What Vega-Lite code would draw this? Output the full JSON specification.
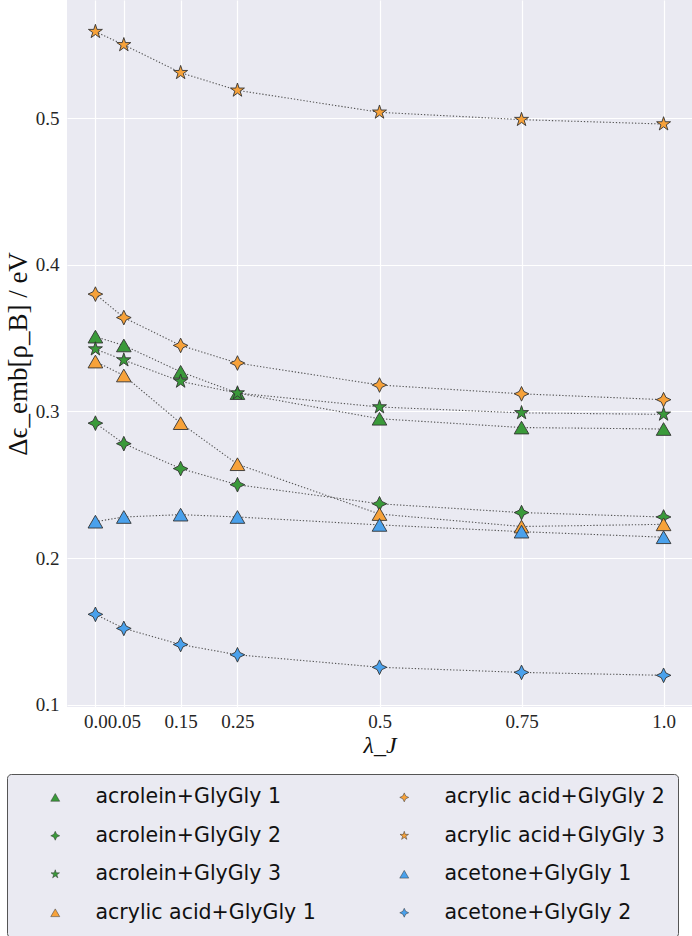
{
  "$schema": "https://vega.github.io/schema/vega-lite/v6.json",
  "width": 625,
  "height": 707,
  "autosize": "none",
  "padding": {"left": 67, "top": 0, "right": 0, "bottom": 229},
  "background": "white",
  "config": {
    "view": {"fill": "#eaeaf2", "stroke": null},
    "axis": {
      "domain": false,
      "ticks": false,
      "grid": true,
      "gridColor": "white",
      "gridWidth": 1.2,
      "labelFont": "Liberation Serif",
      "labelFontSize": 19,
      "labelColor": "#262626",
      "titleColor": "#111"
    }
  },
  "data": {
    "values": [
      {"series": "acrolein+GlyGly 1", "lambda": 0.0, "value": 0.351},
      {"series": "acrolein+GlyGly 1", "lambda": 0.05, "value": 0.345},
      {"series": "acrolein+GlyGly 1", "lambda": 0.15, "value": 0.327},
      {"series": "acrolein+GlyGly 1", "lambda": 0.25, "value": 0.3125},
      {"series": "acrolein+GlyGly 1", "lambda": 0.5, "value": 0.295},
      {"series": "acrolein+GlyGly 1", "lambda": 0.75, "value": 0.289},
      {"series": "acrolein+GlyGly 1", "lambda": 1.0, "value": 0.288},
      {"series": "acrolein+GlyGly 2", "lambda": 0.0, "value": 0.292},
      {"series": "acrolein+GlyGly 2", "lambda": 0.05, "value": 0.278},
      {"series": "acrolein+GlyGly 2", "lambda": 0.15, "value": 0.261},
      {"series": "acrolein+GlyGly 2", "lambda": 0.25, "value": 0.25},
      {"series": "acrolein+GlyGly 2", "lambda": 0.5, "value": 0.237},
      {"series": "acrolein+GlyGly 2", "lambda": 0.75, "value": 0.231},
      {"series": "acrolein+GlyGly 2", "lambda": 1.0, "value": 0.228},
      {"series": "acrolein+GlyGly 3", "lambda": 0.0, "value": 0.3425},
      {"series": "acrolein+GlyGly 3", "lambda": 0.05, "value": 0.335},
      {"series": "acrolein+GlyGly 3", "lambda": 0.15, "value": 0.3205},
      {"series": "acrolein+GlyGly 3", "lambda": 0.25, "value": 0.3125},
      {"series": "acrolein+GlyGly 3", "lambda": 0.5, "value": 0.303},
      {"series": "acrolein+GlyGly 3", "lambda": 0.75, "value": 0.299},
      {"series": "acrolein+GlyGly 3", "lambda": 1.0, "value": 0.298},
      {"series": "acrylic acid+GlyGly 1", "lambda": 0.0, "value": 0.334},
      {"series": "acrylic acid+GlyGly 1", "lambda": 0.05, "value": 0.3245},
      {"series": "acrylic acid+GlyGly 1", "lambda": 0.15, "value": 0.292},
      {"series": "acrylic acid+GlyGly 1", "lambda": 0.25, "value": 0.264},
      {"series": "acrylic acid+GlyGly 1", "lambda": 0.5, "value": 0.23},
      {"series": "acrylic acid+GlyGly 1", "lambda": 0.75, "value": 0.2215},
      {"series": "acrylic acid+GlyGly 1", "lambda": 1.0, "value": 0.223},
      {"series": "acrylic acid+GlyGly 2", "lambda": 0.0, "value": 0.38},
      {"series": "acrylic acid+GlyGly 2", "lambda": 0.05, "value": 0.364},
      {"series": "acrylic acid+GlyGly 2", "lambda": 0.15, "value": 0.345},
      {"series": "acrylic acid+GlyGly 2", "lambda": 0.25, "value": 0.333},
      {"series": "acrylic acid+GlyGly 2", "lambda": 0.5, "value": 0.318},
      {"series": "acrylic acid+GlyGly 2", "lambda": 0.75, "value": 0.312},
      {"series": "acrylic acid+GlyGly 2", "lambda": 1.0, "value": 0.308},
      {"series": "acrylic acid+GlyGly 3", "lambda": 0.0, "value": 0.559},
      {"series": "acrylic acid+GlyGly 3", "lambda": 0.05, "value": 0.55},
      {"series": "acrylic acid+GlyGly 3", "lambda": 0.15, "value": 0.531},
      {"series": "acrylic acid+GlyGly 3", "lambda": 0.25, "value": 0.519},
      {"series": "acrylic acid+GlyGly 3", "lambda": 0.5, "value": 0.504},
      {"series": "acrylic acid+GlyGly 3", "lambda": 0.75, "value": 0.499},
      {"series": "acrylic acid+GlyGly 3", "lambda": 1.0, "value": 0.496},
      {"series": "acetone+GlyGly 1", "lambda": 0.0, "value": 0.2248},
      {"series": "acetone+GlyGly 1", "lambda": 0.05, "value": 0.228},
      {"series": "acetone+GlyGly 1", "lambda": 0.15, "value": 0.2296},
      {"series": "acetone+GlyGly 1", "lambda": 0.25, "value": 0.228},
      {"series": "acetone+GlyGly 1", "lambda": 0.5, "value": 0.2226},
      {"series": "acetone+GlyGly 1", "lambda": 0.75, "value": 0.218},
      {"series": "acetone+GlyGly 1", "lambda": 1.0, "value": 0.2142},
      {"series": "acetone+GlyGly 2", "lambda": 0.0, "value": 0.1616},
      {"series": "acetone+GlyGly 2", "lambda": 0.05, "value": 0.152},
      {"series": "acetone+GlyGly 2", "lambda": 0.15, "value": 0.141},
      {"series": "acetone+GlyGly 2", "lambda": 0.25, "value": 0.134},
      {"series": "acetone+GlyGly 2", "lambda": 0.5, "value": 0.1255},
      {"series": "acetone+GlyGly 2", "lambda": 0.75, "value": 0.122},
      {"series": "acetone+GlyGly 2", "lambda": 1.0, "value": 0.12}
    ]
  },
  "encoding": {
    "x": {
      "field": "lambda",
      "type": "quantitative",
      "scale": {"domain": [-0.05, 1.05], "nice": false, "zero": false},
      "axis": {
        "values": [0, 0.05, 0.15, 0.25, 0.5, 0.75, 1.0],
        "labelExpr": "datum.value == 0 ? '0.0' : datum.value == 1 ? '1.0' : format(datum.value, '')",
        "labelOverlap": false,
        "labelFlush": false,
        "labelPadding": 5,
        "title": "λ_J",
        "titleFont": "Liberation Serif",
        "titleFontStyle": "italic",
        "titleFontWeight": "normal",
        "titleFontSize": 24,
        "titlePadding": 2
      }
    },
    "y": {
      "field": "value",
      "type": "quantitative",
      "scale": {"domain": [0.0984, 0.5806], "nice": false, "zero": false},
      "axis": {
        "values": [0.1, 0.2, 0.3, 0.4, 0.5],
        "format": ".1f",
        "labelPadding": 8,
        "title": "Δϵ_emb[ρ_B] / eV",
        "titleFont": "Liberation Serif",
        "titleFontWeight": "normal",
        "titleFontSize": 27,
        "titlePadding": 3
      }
    }
  },
  "layer": [
    {
      "mark": {"type": "line", "color": "#555555", "strokeWidth": 1.1, "strokeDash": [1.3, 1.9]},
      "encoding": {"detail": {"field": "series"}}
    },
    {
      "mark": {"type": "point", "filled": true, "opacity": 1, "stroke": "#333333", "strokeWidth": 0.9, "size": 215},
      "encoding": {
        "color": {
          "field": "series",
          "type": "nominal",
          "scale": {
            "domain": ["acrolein+GlyGly 1", "acrylic acid+GlyGly 2", "acrolein+GlyGly 2", "acrylic acid+GlyGly 3", "acrolein+GlyGly 3", "acetone+GlyGly 1", "acrylic acid+GlyGly 1", "acetone+GlyGly 2"],
            "range": ["#3a9a3a", "#f7a23a", "#3a9a3a", "#f7a23a", "#3a9a3a", "#4aa1ec", "#f7a23a", "#4aa1ec"]
          },
          "legend": {
            "title": null,
            "orient": "none",
            "legendX": -60,
            "legendY": 774,
            "columns": 2,
            "direction": "horizontal",
            "fillColor": "#eaeaf2",
            "strokeColor": "#555555",
            "cornerRadius": 4,
            "padding": 13,
            "symbolSize": 80,
            "symbolOffset": 25,
            "labelOffset": 30,
            "columnPadding": 53,
            "rowPadding": 17.5,
            "labelFont": "DejaVu Sans",
            "labelFontSize": 20.5,
            "labelColor": "#111",
            "labelLimit": 400,
            "symbolStrokeWidth": 0.5
          }
        },
        "shape": {
          "field": "series",
          "type": "nominal",
          "scale": {
            "domain": ["acrolein+GlyGly 1", "acrylic acid+GlyGly 2", "acrolein+GlyGly 2", "acrylic acid+GlyGly 3", "acrolein+GlyGly 3", "acetone+GlyGly 1", "acrylic acid+GlyGly 1", "acetone+GlyGly 2"],
            "range": [
              "triangle-up",
              "M0,-1L0.32,-0.32L1,0L0.32,0.32L0,1L-0.32,0.32L-1,0L-0.32,-0.32Z",
              "M0,-1L0.32,-0.32L1,0L0.32,0.32L0,1L-0.32,0.32L-1,0L-0.32,-0.32Z",
              "M0,-1L0.2245,-0.309L0.951,-0.309L0.363,0.118L0.588,0.809L0,0.382L-0.588,0.809L-0.363,0.118L-0.951,-0.309L-0.2245,-0.309Z",
              "M0,-1L0.2245,-0.309L0.951,-0.309L0.363,0.118L0.588,0.809L0,0.382L-0.588,0.809L-0.363,0.118L-0.951,-0.309L-0.2245,-0.309Z",
              "triangle-up",
              "triangle-up",
              "M0,-1L0.32,-0.32L1,0L0.32,0.32L0,1L-0.32,0.32L-1,0L-0.32,-0.32Z"
            ]
          },
          "legend": {
            "title": null,
            "orient": "none",
            "legendX": -60,
            "legendY": 774,
            "columns": 2,
            "direction": "horizontal"
          }
        }
      }
    }
  ]
}
